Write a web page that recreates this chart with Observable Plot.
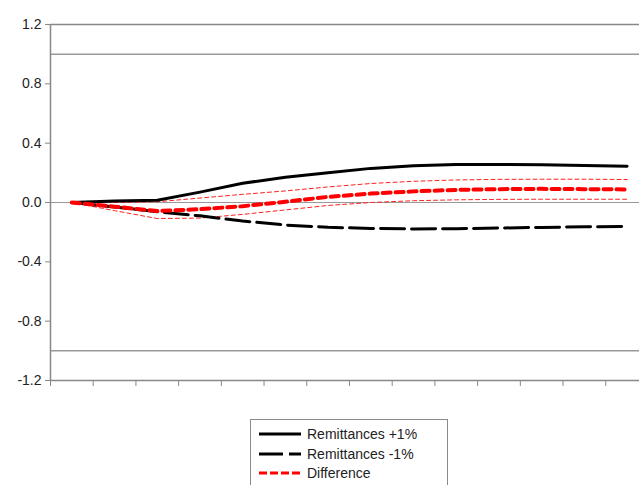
<!DOCTYPE html>
<html>
<head>
<meta charset="utf-8">
<script src="https://cdn.jsdelivr.net/npm/d3@7"></script>
<script src="https://cdn.jsdelivr.net/npm/@observablehq/plot@0.6"></script>
<style>
  body { margin: 0; background: #fff; font-family: "Liberation Sans", Arial, sans-serif; }
  #wrap { position: relative; width: 639px; height: 485px; overflow: hidden; }
  #legend { position: absolute; left: 250px; top: 419px; width: 196px; height: 90px;
            border: 1px solid #8a8a8a; background: #fff; }
  .row { position: absolute; left: 8px; height: 18px; display: flex; align-items: center;
         font-size: 14px; color: #222; }
  .row svg { margin-right: 6px; }
</style>
</head>
<body>
<div id="wrap">
  <div id="chart"></div>
  <div id="legend"></div>
</div>
<script>
const periods = [1,2,3,4,5,6,7,8,9,10,11,12,13,14];
const plusOne = [0, 0.01, 0.015, 0.07, 0.13, 0.17, 0.20, 0.23, 0.248, 0.256, 0.257, 0.255, 0.25, 0.245];
const minusOne = [0, -0.03, -0.062, -0.09, -0.125, -0.152, -0.167, -0.175, -0.178, -0.177, -0.172, -0.168, -0.164, -0.162];
const difference = [0, -0.028, -0.058, -0.045, -0.025, 0.005, 0.038, 0.06, 0.075, 0.085, 0.09, 0.092, 0.09, 0.088];
const diffUpper = [0, 0.0, 0.005, 0.03, 0.055, 0.078, 0.105, 0.128, 0.143, 0.152, 0.156, 0.157, 0.157, 0.155];
const diffLower = [0, -0.055, -0.108, -0.105, -0.08, -0.05, -0.02, 0.0, 0.012, 0.018, 0.021, 0.022, 0.022, 0.022];
const yTicks = [-1.2, -0.8, -0.4, 0.0, 0.4, 0.8, 1.2];
const xTicks = [0.5,1.5,2.5,3.5,4.5,5.5,6.5,7.5,8.5,9.5,10.5,11.5,12.5,13.5];
const refLines = [-1, 1];
const seriesNames = ["Remittances +1%", "Remittances -1%", "Difference"];

const rows = (arr) => periods.map((p, i) => ({p, v: arr[i]}));

const chart = Plot.plot({
  width: 639,
  height: 400,
  marginTop: 24,
  marginBottom: 20,
  marginLeft: 50,
  marginRight: 0,
  style: {fontFamily: "Liberation Sans, Arial, sans-serif", fontSize: "14px", color: "#222"},
  x: {domain: [0.5, 14.29], label: null},
  y: {domain: [-1.2, 1.2], label: null},
  marks: [
    Plot.ruleY([0], {stroke: "#999", strokeWidth: 1}),
    Plot.ruleY(refLines, {stroke: "#666", strokeWidth: 1}),
    Plot.ruleY([1.2, -1.2], {stroke: "#888", strokeWidth: 1.5}),
    Plot.ruleX([0.5], {stroke: "#888", strokeWidth: 1.5}),
    Plot.line(rows(diffUpper), {x: "p", y: "v", stroke: "#ff2020", strokeWidth: 1, strokeDasharray: "4,3"}),
    Plot.line(rows(diffLower), {x: "p", y: "v", stroke: "#ff2020", strokeWidth: 1, strokeDasharray: "4,3"}),
    Plot.line(rows(minusOne), {x: "p", y: "v", stroke: "#000", strokeWidth: 3, strokeDasharray: "24,7"}),
    Plot.line(rows(plusOne), {x: "p", y: "v", stroke: "#000", strokeWidth: 3}),
    Plot.line(rows(difference), {x: "p", y: "v", stroke: "#ff0000", strokeWidth: 4, strokeDasharray: "8,5"}),
    Plot.axisY({ticks: yTicks, tickFormat: d => d.toFixed(1), tickSize: 5, stroke: "#888", fill: "#222", fontSize: 14, label: null}),
    Plot.axisX({ticks: xTicks, tickFormat: () => "", tickSize: 6, stroke: "#888", label: null})
  ]
});
document.getElementById("chart").appendChild(chart);

const styles = [
  {stroke: "#000", w: 3, dash: null},
  {stroke: "#000", w: 3, dash: "24,6"},
  {stroke: "#ff0000", w: 3, dash: "8,3"}
];
const legend = document.getElementById("legend");
seriesNames.forEach((name, i) => {
  const row = document.createElement("div");
  row.className = "row";
  row.style.top = (5 + i * 19.5) + "px";
  const s = styles[i];
  row.innerHTML = `<svg width="42" height="10"><line x1="0" y1="5" x2="42" y2="5" stroke="${s.stroke}" stroke-width="${s.w}" ${s.dash ? `stroke-dasharray="${s.dash}"` : ""}/></svg><span>${name}</span>`;
  legend.appendChild(row);
});
</script>
</body>
</html>
